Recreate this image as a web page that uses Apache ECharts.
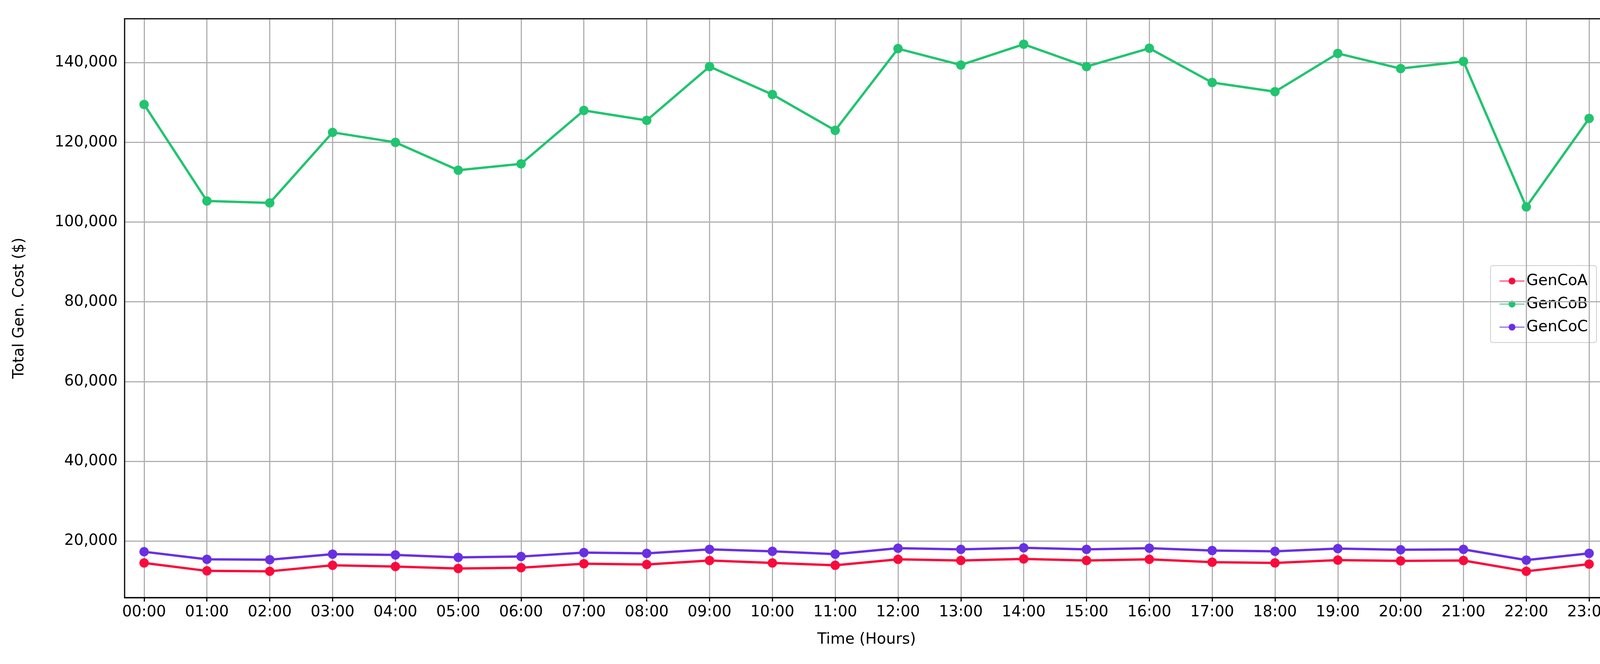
<!DOCTYPE html>
<html>
<head>
<meta charset="utf-8">
<style>html,body,#c{margin:0;padding:0;width:4172px;height:1700px;background:#fff}</style>
<script src="https://cdn.jsdelivr.net/npm/echarts@6/dist/echarts.min.js"></script>
</head>
<body>
<div id="c"></div>
<script>
var hours = ['00:00','01:00','02:00','03:00','04:00','05:00','06:00','07:00','08:00','09:00','10:00','11:00',
  '12:00','13:00','14:00','15:00','16:00','17:00','18:00','19:00','20:00','21:00','22:00','23:00'];
var yTicks = [20000, 40000, 60000, 80000, 100000, 120000, 140000];
var genCoA = [14500,12500,12400,13900,13600,13100,13300,14300,14100,15100,14500,13900,
  15400,15100,15500,15100,15400,14700,14500,15200,15000,15100,12400,14200];
var genCoB = [129500,105300,104800,122500,120000,113000,114600,128000,125500,139000,132000,123000,
  143500,139400,144600,139000,143600,135000,132700,142300,138500,140300,103800,126000];
var genCoC = [17300,15400,15300,16700,16500,15900,16100,17100,16900,17900,17400,16700,
  18200,17900,18300,17900,18200,17600,17400,18100,17800,17900,15200,16900];
var colors = ['#fa0a3c', '#21c46f', '#6930e3'];
var xIdx = hours.map(function (h, i) { return i; });

function pts(arr) { return arr.map(function (v, i) { return [i, v]; }); }
function mk(name, arr, col) {
  return { name: name, type: 'line', data: pts(arr), symbol: 'circle', symbolSize: 24, z: 5,
    lineStyle: { width: 6, color: col }, itemStyle: { color: col } };
}
var gridLines = {
  name: 'grid', type: 'line', data: [], silent: true, z: 1,
  markLine: {
    silent: true, symbol: 'none', label: { show: false },
    lineStyle: { color: '#b0b0b0', width: 3, type: 'solid' },
    data: xIdx.map(function (i) { return { xAxis: i }; })
      .concat(yTicks.map(function (v) { return { yAxis: v }; }))
  }
};
var chart = echarts.init(document.getElementById('c'));
chart.setOption({
  animation: false,
  textStyle: { fontFamily: 'DejaVu Sans' },
  grid: { left: 319, right: 54, top: 48, bottom: 170, containLabel: false },
  legend: {
    orient: 'vertical', right: 85, top: 680, itemWidth: 64, itemHeight: 22, itemGap: 20,
    backgroundColor: '#fff', borderColor: '#ccc', borderWidth: 2, borderRadius: 6, padding: [20, 22],
    textStyle: { fontSize: 39, color: '#000' },
    data: ['GenCoA', 'GenCoB', 'GenCoC']
  },
  xAxis: {
    type: 'value', min: -0.31, max: 23.31,
    name: 'Time (Hours)', nameLocation: 'middle', nameGap: 88,
    nameTextStyle: { fontSize: 39, color: '#000' },
    axisLine: { show: true, onZero: false, lineStyle: { color: '#000', width: 3 } },
    axisTick: { show: true, length: 10, customValues: xIdx, lineStyle: { color: '#000', width: 3 } },
    axisLabel: { fontSize: 39, color: '#000', margin: 18, customValues: xIdx,
      formatter: function (v) { return hours[Math.round(v)] || ''; } },
    splitLine: { show: false }
  },
  yAxis: {
    type: 'value', min: 5800, max: 151000,
    name: 'Total Gen. Cost ($)', nameLocation: 'middle', nameGap: 250,
    nameTextStyle: { fontSize: 39, color: '#000' },
    axisLine: { show: true, lineStyle: { color: '#000', width: 3 } },
    axisTick: { show: true, length: 10, customValues: yTicks, lineStyle: { color: '#000', width: 3 } },
    axisLabel: { fontSize: 39, color: '#000', margin: 18, customValues: yTicks,
      formatter: function (v) { return v.toLocaleString('en-US'); } },
    splitLine: { show: false }
  },
  series: [gridLines, mk('GenCoA', genCoA, colors[0]), mk('GenCoB', genCoB, colors[1]), mk('GenCoC', genCoC, colors[2])],
  graphic: [{ type: 'rect', shape: { x: 319, y: 48, width: 4172 - 319 - 54, height: 1700 - 48 - 170 },
    style: { fill: 'none', stroke: '#000', lineWidth: 3 }, z: 100 }]
});
</script>
</body>
</html>
